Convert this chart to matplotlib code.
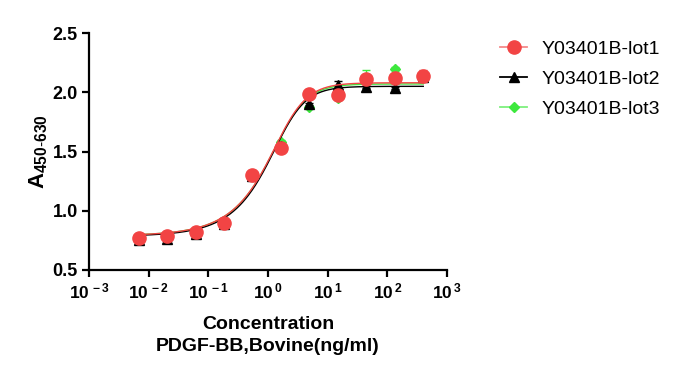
import numpy as np
import matplotlib
matplotlib.use("Agg")
import matplotlib.pyplot as plt
from matplotlib.ticker import FixedLocator, NullLocator, FixedFormatter

plt.rcParams['font.family'] = ['Liberation Sans', 'DejaVu Sans']
plt.rcParams['mathtext.fontset'] = 'custom'
plt.rcParams['mathtext.rm'] = 'Liberation Sans'
plt.rcParams['mathtext.bf'] = 'Liberation Sans:bold'
plt.rcParams['mathtext.it'] = 'Liberation Sans:italic'

# ---- data ----
conc = [0.006774, 0.02032, 0.06097, 0.1829, 0.5487, 1.646, 4.938, 14.81, 44.44, 133.3, 400]
lot1 = [0.77, 0.79, 0.82, 0.895, 1.30, 1.53, 1.985, 1.98, 2.11, 2.12, 2.14]
lot2 = [0.755, 0.765, 0.805, 0.89, 1.29, 1.55, 1.90, 2.06, 2.045, 2.035, 2.13]
lot3 = [0.77, 0.785, 0.825, 0.90, 1.31, 1.58, 1.875, 1.95, 2.12, 2.20, 2.14]
err1 = [0.01, 0.01, 0.01, 0.01, 0.01, 0.01, 0.01, 0.01, 0.01, 0.01, 0.05]
err2 = [0.025, 0.02, 0.015, 0.01, 0.01, 0.01, 0.01, 0.035, 0.01, 0.01, 0.01]
err3 = [0.01, 0.01, 0.01, 0.01, 0.01, 0.02, 0.01, 0.01, 0.07, 0.01, 0.01]
labels = ['Y03401B-lot1', 'Y03401B-lot2', 'Y03401B-lot3']

# fitted 5-parameter logistic curves: bottom, top, EC, hill, asymmetry
fit1 = (0.79, 2.08, 1.95, 1.75, 0.5)
fit2 = (0.785, 2.05, 1.90, 1.80, 0.5)
fit3 = (0.79, 2.07, 1.95, 1.75, 0.5)

xticks = [1e-3, 1e-2, 1e-1, 1e0, 1e1, 1e2, 1e3]
xticklabels = [r'$\mathbf{10^{\,-3}}$', r'$\mathbf{10^{\,-2}}$', r'$\mathbf{10^{\,-1}}$',
               r'$\mathbf{10^{\,0}}$', r'$\mathbf{10^{\,1}}$', r'$\mathbf{10^{\,2}}$', r'$\mathbf{10^{\,3}}$']
yticks = [0.5, 1.0, 1.5, 2.0, 2.5]


def five_pl(x, p):
    b, t, c, h, s = p
    return b + (t - b) / (1 + (c / x) ** h) ** s


W, H = 681, 378
fig = plt.figure(figsize=(W / 100, H / 100), dpi=100)
ax = fig.add_axes([89 / W, 1 - 270 / H, (447 - 89) / W, (270 - 33) / H])

red = '#F24444'
black = '#000000'
green = '#3DE83D'
red_leg = '#F58A8A'
green_leg = '#7EF07E'

xs = np.logspace(np.log10(min(conc)), np.log10(max(conc)), 400)

series = [
    (lot3, err3, fit3, green, green_leg, 'D', 5.5, labels[2], 2),
    (lot2, err2, fit2, black, black, '^', 7.5, labels[1], 3),
    (lot1, err1, fit1, red, red_leg, 'o', 9.5, labels[0], 4),
]
handles = {}
for vals, err, fit, col, lcol, mk, ms, lab, z in series:
    ax.plot(xs, five_pl(xs, fit), color=col, lw=1.0, zorder=z)
    ax.errorbar(conc, vals, yerr=err, fmt='none', ecolor=col, elinewidth=1.0,
                capsize=3, capthick=1.0, zorder=z + 0.1)
    ax.plot(conc, vals, ls='none', marker=mk, ms=ms, color=col, mec=col, zorder=z + 0.2)
    h, = ax.plot([], [], color=lcol, lw=1.3, marker=mk, ms=ms, mfc=col, mec=col)
    handles[lab] = h

ax.set_xscale('log')
ax.set_xlim(1e-3, 1e3)
ax.set_ylim(0.5, 2.5)
ax.xaxis.set_major_locator(FixedLocator(xticks))
ax.xaxis.set_major_formatter(FixedFormatter(xticklabels))
ax.xaxis.set_minor_locator(NullLocator())
ax.set_yticks(yticks)
ax.set_yticklabels([f'{v:.1f}' for v in yticks], fontweight='bold', fontsize=13)
for lbl in ax.get_xticklabels():
    lbl.set_fontsize(12.5)

for sp in ['top', 'right']:
    ax.spines[sp].set_visible(False)
for sp in ['left', 'bottom']:
    ax.spines[sp].set_linewidth(1.6)
ax.tick_params(axis='both', direction='out', length=5, width=1.6, pad=3)

ax.set_xlabel('Concentration\nPDGF-BB,Bovine(ng/ml)', fontsize=14, fontweight='bold',
              labelpad=11, linespacing=1.4)
ax.set_ylabel(r'$\mathbf{A}_{\mathbf{450\text{-}630}}$', fontsize=16, labelpad=2)

fig.legend([handles[l] for l in labels], labels, loc='upper left',
           bbox_to_anchor=(500 / W, 1 - 40 / H), frameon=False, fontsize=14,
           borderpad=0, borderaxespad=0, handlelength=1.4, handletextpad=0.75,
           labelspacing=0.65)

fig.savefig('out.png', dpi=100)
